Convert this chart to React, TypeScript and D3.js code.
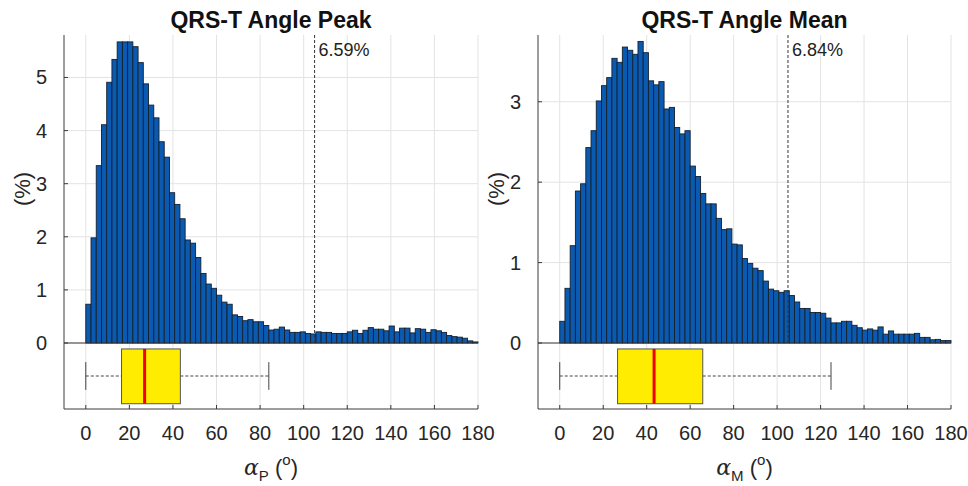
import React from 'react';
import * as d3 from 'd3';

// histogram percentages, 75 bins of 2.4 deg between 0 and 180
const peakPct = [
  0.73, 1.98, 3.34, 4.11, 4.91, 5.34, 5.67, 5.67, 5.67, 5.58,
  5.28, 4.88, 4.48, 4.24, 3.79, 3.5, 2.83, 2.61, 2.34, 1.94,
  1.88, 1.61, 1.31, 1.11, 1.03, 0.9, 0.77, 0.73, 0.53, 0.5,
  0.42, 0.44, 0.4, 0.4, 0.33, 0.245, 0.26, 0.3, 0.245, 0.2,
  0.2, 0.21, 0.18, 0.17, 0.21, 0.2, 0.2, 0.18, 0.18, 0.18,
  0.21, 0.24, 0.18, 0.24, 0.29, 0.26, 0.26, 0.23, 0.32, 0.21,
  0.28, 0.28, 0.19, 0.27, 0.26, 0.2, 0.25, 0.23, 0.2, 0.14,
  0.12, 0.11, 0.09, 0.04, 0.02
];
const meanPct = [
  0.27, 0.68, 1.21, 1.89, 1.98, 2.43, 2.64, 3.01, 3.2, 3.3,
  3.54, 3.49, 3.68, 3.64, 3.59, 3.75, 3.61, 3.26, 3.21, 3.25,
  2.91, 2.93, 2.68, 2.6, 2.64, 2.2, 2.07, 1.86, 1.73, 1.73,
  1.55, 1.41, 1.42, 1.23, 1.22, 1.05, 0.99, 0.93, 0.9, 0.77,
  0.67, 0.65, 0.63, 0.65, 0.59, 0.51, 0.43, 0.43, 0.38, 0.38,
  0.37, 0.31, 0.25, 0.25, 0.27, 0.27, 0.22, 0.19, 0.16, 0.175,
  0.16, 0.2, 0.11, 0.15, 0.11, 0.11, 0.11, 0.11, 0.12, 0.07,
  0.07, 0.04, 0.045, 0.03, 0.03
];
const binWidth = 2.4;

// boxplot: [lower whisker, q1, median, q3, upper whisker]
const peakBox = [0, 16.4, 27, 43.4, 84];
const meanBox = [0, 26.6, 43.4, 65.8, 124.8];

const xTicks = [0, 20, 40, 60, 80, 100, 120, 140, 160, 180];
const peakYTicks = [0, 1, 2, 3, 4, 5];
const meanYTicks = [0, 1, 2, 3];

const FONT = '"Liberation Sans", Arial, Helvetica, sans-serif';
const AXIS = '#3a3a3a';
const GRID = '#e3e3e3';

type PanelProps = {
  left: number;
  right: number;
  title: string;
  values: number[];
  yMax: number;
  yTicks: number[];
  box: number[];
  cutoff: number;
  pctLabel: string;
  sub: string;
};

const Panel = ({ left, right, title, values, yMax, yTicks, box, cutoff, pctLabel, sub }: PanelProps) => {
  const top = 35;
  const histBottom = 343;
  const bottom = 409;
  const x = d3.scaleLinear().domain([-10, 180]).range([left, right]);
  const y = d3.scaleLinear().domain([0, yMax]).range([histBottom, top]);
  const bY = d3.scaleLinear().domain([0, 1]).range([bottom, histBottom]);
  const mid = (left + right) / 2;

  return (
    <g>
      {/* grid */}
      {xTicks.map(t => (
        <line key={'gx' + t} x1={x(t)} x2={x(t)} y1={top} y2={bottom} stroke={GRID} strokeWidth={1} />
      ))}
      {yTicks.map(t => (
        <line key={'gy' + t} x1={left} x2={right} y1={y(t)} y2={y(t)} stroke={GRID} strokeWidth={1} />
      ))}

      {/* bars */}
      {values.map((v, i) => (
        <rect
          key={'b' + i}
          x={x(i * binWidth)}
          y={y(v)}
          width={x((i + 1) * binWidth) - x(i * binWidth)}
          height={y(0) - y(v)}
          fill="#0a5ab2"
          stroke="#15202c"
          strokeWidth={0.9}
        />
      ))}

      {/* cutoff line */}
      <line x1={x(cutoff)} x2={x(cutoff)} y1={top} y2={histBottom} stroke="#333" strokeWidth={1} strokeDasharray="3,2" />
      <text x={x(cutoff) + 4} y={56} fontFamily={FONT} fontSize={18} fill="#222">{pctLabel}</text>

      {/* boxplot */}
      <line x1={x(box[0])} x2={x(box[1])} y1={bY(0.5)} y2={bY(0.5)} stroke="#444" strokeDasharray="3,2" />
      <line x1={x(box[3])} x2={x(box[4])} y1={bY(0.5)} y2={bY(0.5)} stroke="#444" strokeDasharray="3,2" />
      <line x1={x(box[0])} x2={x(box[0])} y1={bY(0.29)} y2={bY(0.71)} stroke="#444" />
      <line x1={x(box[4])} x2={x(box[4])} y1={bY(0.29)} y2={bY(0.71)} stroke="#444" />
      <rect x={x(box[1])} y={bY(0.91)} width={x(box[3]) - x(box[1])} height={bY(0.08) - bY(0.91)} fill="#ffec00" stroke="#555" strokeWidth={1} />
      <line x1={x(box[2])} x2={x(box[2])} y1={bY(0.91)} y2={bY(0.08)} stroke="#f00000" strokeWidth={3} />

      {/* axes */}
      <line x1={left} x2={right} y1={histBottom} y2={histBottom} stroke={AXIS} />
      <line x1={left} x2={right} y1={bottom} y2={bottom} stroke={AXIS} />
      <line x1={left} x2={left} y1={top} y2={bottom} stroke={AXIS} />
      {yTicks.map(t => (
        <g key={'yt' + t}>
          <line x1={left} x2={left + 4} y1={y(t)} y2={y(t)} stroke={AXIS} />
          <text x={left - 17} y={y(t) + 7} textAnchor="end" fontFamily={FONT} fontSize={20} fill="#262626">{t}</text>
        </g>
      ))}
      {xTicks.map(t => (
        <g key={'xt' + t}>
          <line x1={x(t)} x2={x(t)} y1={bottom} y2={bottom - 4} stroke={AXIS} />
          <text x={x(t)} y={440} textAnchor="middle" fontFamily={FONT} fontSize={20} fill="#262626">{t}</text>
        </g>
      ))}

      {/* labels */}
      <text x={mid} y={28} textAnchor="middle" fontFamily={FONT} fontSize={23} fontWeight="bold" fill="#111">{title}</text>
      <text transform={`translate(${left - 34},189) rotate(-90)`} textAnchor="middle" fontFamily={FONT} fontSize={22} fill="#262626">(%)</text>
      <text x={mid} y={475} textAnchor="middle" fontFamily={FONT} fontSize={22} fill="#262626">
        <tspan fontFamily='"DejaVu Serif", serif' fontStyle="italic">α</tspan>
        <tspan fontSize={15} dy={6}>{sub}</tspan>
        <tspan dy={-6}> (</tspan>
        <tspan fontSize={15} dy={-10}>o</tspan>
        <tspan dy={10}>)</tspan>
      </text>
    </g>
  );
};

export default function App() {
  return (
    <svg width={968} height={486} style={{ position: 'absolute', left: 0, top: 0, background: '#fff' }}>
      <rect width={968} height={486} fill="#fff" />
      <Panel left={64} right={478} title="QRS-T Angle Peak" values={peakPct} yMax={5.8} yTicks={peakYTicks}
        box={peakBox} cutoff={105} pctLabel="6.59%" sub="P" />
      <Panel left={538} right={951} title="QRS-T Angle Mean" values={meanPct} yMax={3.83} yTicks={meanYTicks}
        box={meanBox} cutoff={105} pctLabel="6.84%" sub="M" />
    </svg>
  );
}
